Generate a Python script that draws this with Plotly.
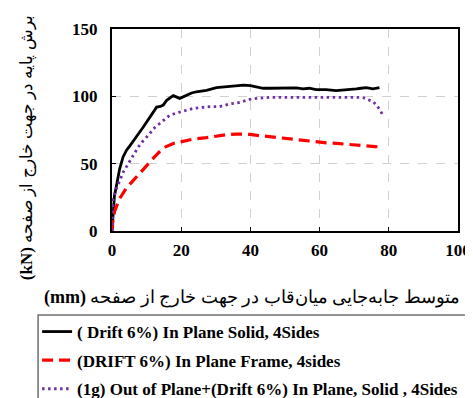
import plotly.graph_objects as go

# --- data ---
solid_x = [0, 0.3, 0.7, 1.25, 2.2, 3.2, 4.2, 5.1, 6.6, 7.6, 9, 10, 10.9, 12, 12.9, 14, 14.8, 15.8,
           17.7, 19.6, 21.5, 23, 24.4, 27.3, 30.2, 33.1, 36, 38, 40, 42, 43.7, 46, 48.5, 51, 53.3,
           55.2, 57, 59, 61.9, 64.8, 66.5, 67.7, 70.6, 72, 73.5, 75.4, 77.3]
solid_y = [0, 16, 26, 33, 46, 55, 60, 63, 69, 72, 77, 81, 85, 89, 92, 92.5, 93.5, 97,
           100.5, 98.5, 101, 102.5, 103.4, 104.5, 106.5, 107, 108, 108.3, 107.9, 107, 106, 106, 106, 106.5, 106.3,
           105.5, 106, 105, 105, 104.3, 104.5, 105, 105.5, 106, 106.4, 105.6, 106.5]

frame_x = [0, 0.3, 0.8, 2.2, 4.2, 6.6, 9.5, 11, 12.3, 13.8, 15.5, 17.7, 20, 21.5, 24, 27.3, 30,
           33.1, 36, 39.8, 42, 45.6, 48, 50.4, 53, 56.2, 59, 62, 65, 67.7, 70.5, 73.5, 76, 78]
frame_y = [0, 9, 15, 24, 32, 39, 47.5, 51, 55, 59, 62.5, 65, 66.5, 67.3, 68.5, 69.3, 70.5,
           71.5, 72, 71.8, 71, 70, 69.3, 68.5, 67.5, 66.7, 66, 65.5, 65, 64.3, 64, 63, 62.7, 62.3]

oop_x = [0, 0.1, 0.3, 1.2, 2.2, 3.3, 4.7, 6, 7.6, 9, 10.5, 12, 13.8, 14.8, 16.7, 18.5, 20.1, 23.4,
         25, 28.3, 31, 34, 36.9, 39.8, 42, 45.6, 50, 55.2, 59, 62.9, 67, 70, 72.5, 74.4, 75.5,
         76.3, 77.3, 78.2]
oop_y = [0, 10, 23, 31, 37.6, 44, 50, 56, 62.4, 67, 71, 76, 80, 82, 86, 87.5, 88.6, 91,
         91.5, 92.3, 92.3, 94.3, 95.5, 97.8, 98.5, 99.3, 99.3, 99.3, 99.5, 99.8, 99.5, 99.3, 99.1, 97.5, 96,
         93.8, 90.5, 86.4]

names = ["( Drift 6%) In Plane Solid, 4Sides",
         "(DRIFT 6%) In Plane Frame, 4sides",
         "(1g) Out of Plane+(Drift 6%) In Plane, Solid , 4Sides"]

x_ticks = [0, 20, 40, 60, 80, 100]
y_ticks = [0, 50, 100, 150]

x_title = "<b>(mm)</b> متوسط جابه\u200cجایی میان\u200cقاب در جهت خارج از صفحه"
y_title = "<b>(kN)</b> برش پایه در جهت خارج از صفحه"

serif = "Liberation Serif, serif"

fig = go.Figure()
fig.add_trace(go.Scatter(x=solid_x, y=solid_y, mode="lines", name=names[0], legendgroup="a",
                         line=dict(color="black", width=2.8)))
fig.add_trace(go.Scatter(x=frame_x, y=frame_y, mode="lines", name=names[1], legendgroup="b",
                         line=dict(color="#ff0000", width=3.2, dash="11px,6px")))
fig.add_trace(go.Scatter(x=oop_x, y=oop_y, mode="lines", name=names[2], legendgroup="c",
                         line=dict(color="#7030a0", width=2.8, dash="2.5px,3.5px")))

# legend frame drawn as a shape so the box and entries can be placed separately
fig.add_shape(type="rect", xref="paper", yref="paper", x0=-0.2136, x1=1.033, y0=-0.4158, y1=-0.876,
              line=dict(color="#707070", width=1.5), fillcolor="rgba(0,0,0,0)")

fig.update_layout(
    width=473, height=398,
    margin=dict(l=104, r=22.5, t=21, b=175, autoexpand=False),
    plot_bgcolor="white", paper_bgcolor="white",
    font=dict(family=serif, color="black"),
    showlegend=True,
    legend=dict(x=-0.2165, y=-0.411, xanchor="left", yanchor="top",
                borderwidth=0, bgcolor="rgba(0,0,0,0)",
                font=dict(family=serif, size=17, weight="bold"),
                traceorder="grouped", tracegroupgap=3.5),
    annotations=[
        dict(text=x_title, xref="paper", yref="paper", x=0.404, y=-0.327,
             xanchor="center", yanchor="middle", showarrow=False,
             font=dict(family=serif, size=18)),
        dict(text=y_title, xref="paper", yref="paper", x=-0.245, y=0.411,
             xanchor="center", yanchor="middle", showarrow=False, textangle=-90,
             font=dict(family=serif, size=17)),
    ],
)
fig.update_xaxes(range=[0, 100], tickvals=x_ticks, showline=True, linecolor="black", linewidth=2,
                 mirror=True, ticks="inside", ticklen=4, tickcolor="black", ticklabelstandoff=3,
                 showgrid=True, gridcolor="#d0d0d0", griddash="dash", gridwidth=1, zeroline=False,
                 tickfont=dict(family=serif, size=17, weight="bold"))
fig.update_yaxes(range=[0, 150], tickvals=y_ticks, showline=True, linecolor="black", linewidth=2,
                 mirror=True, ticks="inside", ticklen=4, tickcolor="black", ticklabelstandoff=9,
                 showgrid=True, gridcolor="#d0d0d0", griddash="dash", gridwidth=1, zeroline=False,
                 tickfont=dict(family=serif, size=17, weight="bold"))

fig.write_html("out.html")
